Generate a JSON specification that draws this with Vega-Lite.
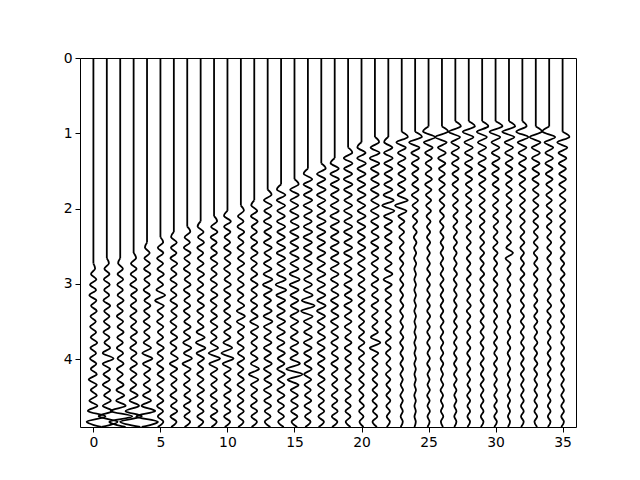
{
"$schema":"https://vega.github.io/schema/vega-lite/v6.json",
"width":496,"height":369,
"autosize":{"type":"none"},
"padding":{"left":80,"top":58,"right":64,"bottom":53},
"config":{"view":{"stroke":"black","strokeWidth":1},"axis":{"domain":false,"grid":false,"ticks":true,"tickColor":"black","tickSize":5,"tickWidth":1,"labelFont":"DejaVu Sans","labelFontSize":13.9,"labelColor":"black","labelPadding":3,"labelFlush":false}},
"datasets":{
"r":[{"k":0,"o":2.73},{"k":1,"o":2.66},{"k":2,"o":2.66},{"k":3,"o":2.59},{"k":4,"o":2.45},{"k":5,"o":2.38},{"k":6,"o":2.31},{"k":7,"o":2.24},{"k":8,"o":2.17},{"k":9,"o":2.1},{"k":10,"o":2.03},{"k":11,"o":1.96},{"k":12,"o":1.89},{"k":13,"o":1.75},{"k":14,"o":1.68},{"k":15,"o":1.61},{"k":16,"o":1.47},{"k":17,"o":1.4},{"k":18,"o":1.33},{"k":19,"o":1.19},{"k":20,"o":1.12},{"k":21,"o":1.05},{"k":22,"o":1.05},{"k":23,"o":0.98},{"k":24,"o":0.98},{"k":25,"o":0.91},{"k":26,"o":0.91},{"k":27,"o":0.84},{"k":28,"o":0.84},{"k":29,"o":0.84},{"k":30,"o":0.84},{"k":31,"o":0.84},{"k":32,"o":0.84},{"k":33,"o":0.91},{"k":34,"o":0.91},{"k":35,"o":0.98}],
"w":[
{"k":0,"t":2.73,"x":0},{"k":0,"t":2.8,"x":0.12},{"k":0,"t":2.87,"x":-0.18},{"k":0,"t":2.94,"x":0.22},{"k":0,"t":3.01,"x":-0.25},{"k":0,"t":3.08,"x":0.2},{"k":0,"t":3.15,"x":-0.3},{"k":0,"t":3.22,"x":0.22},{"k":0,"t":3.29,"x":-0.18},{"k":0,"t":3.36,"x":0.25},{"k":0,"t":3.43,"x":-0.22},{"k":0,"t":3.5,"x":0.18},{"k":0,"t":3.57,"x":-0.25},{"k":0,"t":3.64,"x":0.2},{"k":0,"t":3.71,"x":-0.2},{"k":0,"t":3.78,"x":0.28},{"k":0,"t":3.85,"x":-0.22},{"k":0,"t":3.92,"x":0.2},{"k":0,"t":3.99,"x":-0.25},{"k":0,"t":4.06,"x":0.22},{"k":0,"t":4.13,"x":-0.2},{"k":0,"t":4.2,"x":0.25},{"k":0,"t":4.27,"x":-0.35},{"k":0,"t":4.34,"x":0.25},{"k":0,"t":4.41,"x":-0.2},{"k":0,"t":4.48,"x":0.25},{"k":0,"t":4.55,"x":-0.3},{"k":0,"t":4.62,"x":0.3},{"k":0,"t":4.69,"x":-0.4},{"k":0,"t":4.76,"x":0.9},{"k":0,"t":4.83,"x":-0.5},{"k":0,"t":4.9,"x":0.6},
{"k":1,"t":2.66,"x":1},{"k":1,"t":2.73,"x":1.15},{"k":1,"t":2.8,"x":0.82},{"k":1,"t":2.87,"x":1.2},{"k":1,"t":2.94,"x":0.78},{"k":1,"t":3.01,"x":1.22},{"k":1,"t":3.08,"x":0.8},{"k":1,"t":3.15,"x":1.18},{"k":1,"t":3.22,"x":0.75},{"k":1,"t":3.29,"x":1.25},{"k":1,"t":3.36,"x":0.8},{"k":1,"t":3.43,"x":1.2},{"k":1,"t":3.5,"x":0.78},{"k":1,"t":3.57,"x":1.22},{"k":1,"t":3.64,"x":0.75},{"k":1,"t":3.71,"x":1.2},{"k":1,"t":3.78,"x":0.82},{"k":1,"t":3.85,"x":1.25},{"k":1,"t":3.92,"x":0.7},{"k":1,"t":3.99,"x":1.5},{"k":1,"t":4.06,"x":0.7},{"k":1,"t":4.13,"x":1.25},{"k":1,"t":4.2,"x":0.75},{"k":1,"t":4.27,"x":1.22},{"k":1,"t":4.34,"x":0.7},{"k":1,"t":4.41,"x":1.25},{"k":1,"t":4.48,"x":0.8},{"k":1,"t":4.55,"x":1.3},{"k":1,"t":4.62,"x":0.7},{"k":1,"t":4.69,"x":1.4},{"k":1,"t":4.76,"x":0.4},{"k":1,"t":4.83,"x":1.8},{"k":1,"t":4.9,"x":0.6},
{"k":2,"t":2.66,"x":2},{"k":2,"t":2.73,"x":1.85},{"k":2,"t":2.8,"x":2.2},{"k":2,"t":2.87,"x":1.8},{"k":2,"t":2.94,"x":2.22},{"k":2,"t":3.01,"x":1.78},{"k":2,"t":3.08,"x":2.2},{"k":2,"t":3.15,"x":1.8},{"k":2,"t":3.22,"x":2.25},{"k":2,"t":3.29,"x":1.78},{"k":2,"t":3.36,"x":2.2},{"k":2,"t":3.43,"x":1.75},{"k":2,"t":3.5,"x":2.22},{"k":2,"t":3.57,"x":1.8},{"k":2,"t":3.64,"x":2.25},{"k":2,"t":3.71,"x":1.78},{"k":2,"t":3.78,"x":2.2},{"k":2,"t":3.85,"x":1.75},{"k":2,"t":3.92,"x":2.22},{"k":2,"t":3.99,"x":1.8},{"k":2,"t":4.06,"x":2.25},{"k":2,"t":4.13,"x":1.75},{"k":2,"t":4.2,"x":2.2},{"k":2,"t":4.27,"x":1.78},{"k":2,"t":4.34,"x":2.25},{"k":2,"t":4.41,"x":1.72},{"k":2,"t":4.48,"x":2.3},{"k":2,"t":4.55,"x":1.7},{"k":2,"t":4.62,"x":2.4},{"k":2,"t":4.69,"x":1.3},{"k":2,"t":4.76,"x":2.9},{"k":2,"t":4.83,"x":1.2},{"k":2,"t":4.9,"x":2.4},
{"k":3,"t":2.59,"x":3},{"k":3,"t":2.66,"x":3.18},{"k":3,"t":2.73,"x":2.8},{"k":3,"t":2.8,"x":3.22},{"k":3,"t":2.87,"x":2.78},{"k":3,"t":2.94,"x":3.2},{"k":3,"t":3.01,"x":2.75},{"k":3,"t":3.08,"x":3.25},{"k":3,"t":3.15,"x":2.8},{"k":3,"t":3.22,"x":3.2},{"k":3,"t":3.29,"x":2.78},{"k":3,"t":3.36,"x":3.22},{"k":3,"t":3.43,"x":2.75},{"k":3,"t":3.5,"x":3.2},{"k":3,"t":3.57,"x":2.8},{"k":3,"t":3.64,"x":3.25},{"k":3,"t":3.71,"x":2.78},{"k":3,"t":3.78,"x":3.2},{"k":3,"t":3.85,"x":2.75},{"k":3,"t":3.92,"x":3.22},{"k":3,"t":3.99,"x":2.8},{"k":3,"t":4.06,"x":3.25},{"k":3,"t":4.13,"x":2.75},{"k":3,"t":4.2,"x":3.22},{"k":3,"t":4.27,"x":2.78},{"k":3,"t":4.34,"x":3.2},{"k":3,"t":4.41,"x":2.75},{"k":3,"t":4.48,"x":3.3},{"k":3,"t":4.55,"x":2.7},{"k":3,"t":4.62,"x":3.4},{"k":3,"t":4.69,"x":2.4},{"k":3,"t":4.76,"x":3.6},{"k":3,"t":4.83,"x":2.0},{"k":3,"t":4.9,"x":3.5},
{"k":4,"t":2.45,"x":4},{"k":4,"t":2.52,"x":3.85},{"k":4,"t":2.59,"x":4.2},{"k":4,"t":2.66,"x":3.8},{"k":4,"t":2.73,"x":4.22},{"k":4,"t":2.8,"x":3.78},{"k":4,"t":2.87,"x":4.25},{"k":4,"t":2.94,"x":3.8},{"k":4,"t":3.01,"x":4.2},{"k":4,"t":3.08,"x":3.75},{"k":4,"t":3.15,"x":4.22},{"k":4,"t":3.22,"x":3.8},{"k":4,"t":3.29,"x":4.25},{"k":4,"t":3.36,"x":3.78},{"k":4,"t":3.43,"x":4.2},{"k":4,"t":3.5,"x":3.75},{"k":4,"t":3.57,"x":4.22},{"k":4,"t":3.64,"x":3.78},{"k":4,"t":3.71,"x":4.2},{"k":4,"t":3.78,"x":3.75},{"k":4,"t":3.85,"x":4.3},{"k":4,"t":3.92,"x":3.65},{"k":4,"t":3.99,"x":4.4},{"k":4,"t":4.06,"x":3.7},{"k":4,"t":4.13,"x":4.25},{"k":4,"t":4.2,"x":3.78},{"k":4,"t":4.27,"x":4.22},{"k":4,"t":4.34,"x":3.75},{"k":4,"t":4.41,"x":4.25},{"k":4,"t":4.48,"x":3.7},{"k":4,"t":4.55,"x":4.3},{"k":4,"t":4.62,"x":3.6},{"k":4,"t":4.69,"x":4.6},{"k":4,"t":4.76,"x":3.2},{"k":4,"t":4.83,"x":4.8},{"k":4,"t":4.9,"x":3.6},
{"k":5,"t":2.38,"x":5},{"k":5,"t":2.45,"x":5.2},{"k":5,"t":2.52,"x":4.8},{"k":5,"t":2.59,"x":5.22},{"k":5,"t":2.66,"x":4.75},{"k":5,"t":2.73,"x":5.2},{"k":5,"t":2.8,"x":4.78},{"k":5,"t":2.87,"x":5.25},{"k":5,"t":2.94,"x":4.8},{"k":5,"t":3.01,"x":5.2},{"k":5,"t":3.08,"x":4.7},{"k":5,"t":3.15,"x":5.35},{"k":5,"t":3.22,"x":4.6},{"k":5,"t":3.29,"x":5.25},{"k":5,"t":3.36,"x":4.78},{"k":5,"t":3.43,"x":5.2},{"k":5,"t":3.5,"x":4.75},{"k":5,"t":3.57,"x":5.22},{"k":5,"t":3.64,"x":4.8},{"k":5,"t":3.71,"x":5.2},{"k":5,"t":3.78,"x":4.75},{"k":5,"t":3.85,"x":5.25},{"k":5,"t":3.92,"x":4.78},{"k":5,"t":3.99,"x":5.2},{"k":5,"t":4.06,"x":4.75},{"k":5,"t":4.13,"x":5.22},{"k":5,"t":4.2,"x":4.78},{"k":5,"t":4.27,"x":5.25},{"k":5,"t":4.34,"x":4.75},{"k":5,"t":4.41,"x":5.2},{"k":5,"t":4.48,"x":4.78},{"k":5,"t":4.55,"x":5.22},{"k":5,"t":4.62,"x":4.75},{"k":5,"t":4.69,"x":5.2},{"k":5,"t":4.76,"x":4.8},{"k":5,"t":4.83,"x":5.22},{"k":5,"t":4.9,"x":4.8},
{"k":6,"t":2.31,"x":6},{"k":6,"t":2.38,"x":5.8},{"k":6,"t":2.45,"x":6.22},{"k":6,"t":2.52,"x":5.78},{"k":6,"t":2.59,"x":6.2},{"k":6,"t":2.66,"x":5.75},{"k":6,"t":2.73,"x":6.25},{"k":6,"t":2.8,"x":5.8},{"k":6,"t":2.87,"x":6.2},{"k":6,"t":2.94,"x":5.75},{"k":6,"t":3.01,"x":6.22},{"k":6,"t":3.08,"x":5.78},{"k":6,"t":3.15,"x":6.2},{"k":6,"t":3.22,"x":5.75},{"k":6,"t":3.29,"x":6.25},{"k":6,"t":3.36,"x":5.8},{"k":6,"t":3.43,"x":6.22},{"k":6,"t":3.5,"x":5.75},{"k":6,"t":3.57,"x":6.2},{"k":6,"t":3.64,"x":5.78},{"k":6,"t":3.71,"x":6.25},{"k":6,"t":3.78,"x":5.75},{"k":6,"t":3.85,"x":6.2},{"k":6,"t":3.92,"x":5.78},{"k":6,"t":3.99,"x":6.3},{"k":6,"t":4.06,"x":5.7},{"k":6,"t":4.13,"x":6.25},{"k":6,"t":4.2,"x":5.75},{"k":6,"t":4.27,"x":6.22},{"k":6,"t":4.34,"x":5.8},{"k":6,"t":4.41,"x":6.2},{"k":6,"t":4.48,"x":5.75},{"k":6,"t":4.55,"x":6.22},{"k":6,"t":4.62,"x":5.78},{"k":6,"t":4.69,"x":6.25},{"k":6,"t":4.76,"x":5.75},{"k":6,"t":4.83,"x":6.2},{"k":6,"t":4.9,"x":5.8},
{"k":7,"t":2.24,"x":7},{"k":7,"t":2.31,"x":7.22},{"k":7,"t":2.38,"x":6.8},{"k":7,"t":2.45,"x":7.2},{"k":7,"t":2.52,"x":6.75},{"k":7,"t":2.59,"x":7.25},{"k":7,"t":2.66,"x":6.78},{"k":7,"t":2.73,"x":7.2},{"k":7,"t":2.8,"x":6.75},{"k":7,"t":2.87,"x":7.22},{"k":7,"t":2.94,"x":6.8},{"k":7,"t":3.01,"x":7.25},{"k":7,"t":3.08,"x":6.75},{"k":7,"t":3.15,"x":7.2},{"k":7,"t":3.22,"x":6.78},{"k":7,"t":3.29,"x":7.22},{"k":7,"t":3.36,"x":6.75},{"k":7,"t":3.43,"x":7.2},{"k":7,"t":3.5,"x":6.78},{"k":7,"t":3.57,"x":7.25},{"k":7,"t":3.64,"x":6.75},{"k":7,"t":3.71,"x":7.22},{"k":7,"t":3.78,"x":6.7},{"k":7,"t":3.85,"x":7.3},{"k":7,"t":3.92,"x":6.75},{"k":7,"t":3.99,"x":7.35},{"k":7,"t":4.06,"x":6.65},{"k":7,"t":4.13,"x":7.25},{"k":7,"t":4.2,"x":6.78},{"k":7,"t":4.27,"x":7.2},{"k":7,"t":4.34,"x":6.75},{"k":7,"t":4.41,"x":7.22},{"k":7,"t":4.48,"x":6.78},{"k":7,"t":4.55,"x":7.25},{"k":7,"t":4.62,"x":6.75},{"k":7,"t":4.69,"x":7.2},{"k":7,"t":4.76,"x":6.78},{"k":7,"t":4.83,"x":7.22},{"k":7,"t":4.9,"x":6.8},
{"k":8,"t":2.17,"x":8},{"k":8,"t":2.24,"x":7.78},{"k":8,"t":2.31,"x":8.22},{"k":8,"t":2.38,"x":7.8},{"k":8,"t":2.45,"x":8.25},{"k":8,"t":2.52,"x":7.75},{"k":8,"t":2.59,"x":8.2},{"k":8,"t":2.66,"x":7.78},{"k":8,"t":2.73,"x":8.22},{"k":8,"t":2.8,"x":7.75},{"k":8,"t":2.87,"x":8.25},{"k":8,"t":2.94,"x":7.8},{"k":8,"t":3.01,"x":8.2},{"k":8,"t":3.08,"x":7.75},{"k":8,"t":3.15,"x":8.22},{"k":8,"t":3.22,"x":7.78},{"k":8,"t":3.29,"x":8.25},{"k":8,"t":3.36,"x":7.75},{"k":8,"t":3.43,"x":8.2},{"k":8,"t":3.5,"x":7.78},{"k":8,"t":3.57,"x":8.22},{"k":8,"t":3.64,"x":7.7},{"k":8,"t":3.71,"x":8.3},{"k":8,"t":3.78,"x":7.65},{"k":8,"t":3.85,"x":8.35},{"k":8,"t":3.92,"x":7.7},{"k":8,"t":3.99,"x":8.25},{"k":8,"t":4.06,"x":7.78},{"k":8,"t":4.13,"x":8.2},{"k":8,"t":4.2,"x":7.75},{"k":8,"t":4.27,"x":8.22},{"k":8,"t":4.34,"x":7.78},{"k":8,"t":4.41,"x":8.25},{"k":8,"t":4.48,"x":7.75},{"k":8,"t":4.55,"x":8.2},{"k":8,"t":4.62,"x":7.78},{"k":8,"t":4.69,"x":8.22},{"k":8,"t":4.76,"x":7.75},{"k":8,"t":4.83,"x":8.2},{"k":8,"t":4.9,"x":7.8},
{"k":9,"t":2.1,"x":9},{"k":9,"t":2.17,"x":9.22},{"k":9,"t":2.24,"x":8.78},{"k":9,"t":2.31,"x":9.25},{"k":9,"t":2.38,"x":8.75},{"k":9,"t":2.45,"x":9.2},{"k":9,"t":2.52,"x":8.78},{"k":9,"t":2.59,"x":9.22},{"k":9,"t":2.66,"x":8.75},{"k":9,"t":2.73,"x":9.25},{"k":9,"t":2.8,"x":8.8},{"k":9,"t":2.87,"x":9.2},{"k":9,"t":2.94,"x":8.75},{"k":9,"t":3.01,"x":9.22},{"k":9,"t":3.08,"x":8.78},{"k":9,"t":3.15,"x":9.25},{"k":9,"t":3.22,"x":8.75},{"k":9,"t":3.29,"x":9.2},{"k":9,"t":3.36,"x":8.78},{"k":9,"t":3.43,"x":9.22},{"k":9,"t":3.5,"x":8.75},{"k":9,"t":3.57,"x":9.25},{"k":9,"t":3.64,"x":8.78},{"k":9,"t":3.71,"x":9.2},{"k":9,"t":3.78,"x":8.75},{"k":9,"t":3.85,"x":9.3},{"k":9,"t":3.92,"x":8.6},{"k":9,"t":3.99,"x":9.45},{"k":9,"t":4.06,"x":8.65},{"k":9,"t":4.13,"x":9.25},{"k":9,"t":4.2,"x":8.75},{"k":9,"t":4.27,"x":9.22},{"k":9,"t":4.34,"x":8.78},{"k":9,"t":4.41,"x":9.2},{"k":9,"t":4.48,"x":8.75},{"k":9,"t":4.55,"x":9.22},{"k":9,"t":4.62,"x":8.78},{"k":9,"t":4.69,"x":9.25},{"k":9,"t":4.76,"x":8.75},{"k":9,"t":4.83,"x":9.2},{"k":9,"t":4.9,"x":8.8},
{"k":10,"t":2.03,"x":10},{"k":10,"t":2.1,"x":9.75},{"k":10,"t":2.17,"x":10.25},{"k":10,"t":2.24,"x":9.75},{"k":10,"t":2.31,"x":10.22},{"k":10,"t":2.38,"x":9.78},{"k":10,"t":2.45,"x":10.2},{"k":10,"t":2.52,"x":9.75},{"k":10,"t":2.59,"x":10.25},{"k":10,"t":2.66,"x":9.78},{"k":10,"t":2.73,"x":10.22},{"k":10,"t":2.8,"x":9.75},{"k":10,"t":2.87,"x":10.2},{"k":10,"t":2.94,"x":9.78},{"k":10,"t":3.01,"x":10.25},{"k":10,"t":3.08,"x":9.75},{"k":10,"t":3.15,"x":10.22},{"k":10,"t":3.22,"x":9.78},{"k":10,"t":3.29,"x":10.2},{"k":10,"t":3.36,"x":9.75},{"k":10,"t":3.43,"x":10.22},{"k":10,"t":3.5,"x":9.78},{"k":10,"t":3.57,"x":10.25},{"k":10,"t":3.64,"x":9.75},{"k":10,"t":3.71,"x":10.22},{"k":10,"t":3.78,"x":9.7},{"k":10,"t":3.85,"x":10.35},{"k":10,"t":3.92,"x":9.55},{"k":10,"t":3.99,"x":10.45},{"k":10,"t":4.06,"x":9.65},{"k":10,"t":4.13,"x":10.25},{"k":10,"t":4.2,"x":9.75},{"k":10,"t":4.27,"x":10.22},{"k":10,"t":4.34,"x":9.78},{"k":10,"t":4.41,"x":10.25},{"k":10,"t":4.48,"x":9.75},{"k":10,"t":4.55,"x":10.2},{"k":10,"t":4.62,"x":9.78},{"k":10,"t":4.69,"x":10.22},{"k":10,"t":4.76,"x":9.75},{"k":10,"t":4.83,"x":10.2},{"k":10,"t":4.9,"x":9.8},
{"k":11,"t":1.96,"x":11},{"k":11,"t":2.03,"x":11.22},{"k":11,"t":2.1,"x":10.78},{"k":11,"t":2.17,"x":11.2},{"k":11,"t":2.24,"x":10.75},{"k":11,"t":2.31,"x":11.25},{"k":11,"t":2.38,"x":10.8},{"k":11,"t":2.45,"x":11.2},{"k":11,"t":2.52,"x":10.75},{"k":11,"t":2.59,"x":11.22},{"k":11,"t":2.66,"x":10.78},{"k":11,"t":2.73,"x":11.25},{"k":11,"t":2.8,"x":10.75},{"k":11,"t":2.87,"x":11.2},{"k":11,"t":2.94,"x":10.78},{"k":11,"t":3.01,"x":11.22},{"k":11,"t":3.08,"x":10.75},{"k":11,"t":3.15,"x":11.2},{"k":11,"t":3.22,"x":10.78},{"k":11,"t":3.29,"x":11.25},{"k":11,"t":3.36,"x":10.7},{"k":11,"t":3.43,"x":11.3},{"k":11,"t":3.5,"x":10.7},{"k":11,"t":3.57,"x":11.25},{"k":11,"t":3.64,"x":10.78},{"k":11,"t":3.71,"x":11.2},{"k":11,"t":3.78,"x":10.75},{"k":11,"t":3.85,"x":11.22},{"k":11,"t":3.92,"x":10.78},{"k":11,"t":3.99,"x":11.25},{"k":11,"t":4.06,"x":10.75},{"k":11,"t":4.13,"x":11.2},{"k":11,"t":4.2,"x":10.78},{"k":11,"t":4.27,"x":11.22},{"k":11,"t":4.34,"x":10.75},{"k":11,"t":4.41,"x":11.25},{"k":11,"t":4.48,"x":10.78},{"k":11,"t":4.55,"x":11.2},{"k":11,"t":4.62,"x":10.75},{"k":11,"t":4.69,"x":11.22},{"k":11,"t":4.76,"x":10.8},{"k":11,"t":4.83,"x":11.2},{"k":11,"t":4.9,"x":10.8},
{"k":12,"t":1.89,"x":12},{"k":12,"t":1.96,"x":11.78},{"k":12,"t":2.03,"x":12.22},{"k":12,"t":2.1,"x":11.75},{"k":12,"t":2.17,"x":12.25},{"k":12,"t":2.24,"x":11.8},{"k":12,"t":2.31,"x":12.2},{"k":12,"t":2.38,"x":11.75},{"k":12,"t":2.45,"x":12.22},{"k":12,"t":2.52,"x":11.78},{"k":12,"t":2.59,"x":12.25},{"k":12,"t":2.66,"x":11.75},{"k":12,"t":2.73,"x":12.2},{"k":12,"t":2.8,"x":11.78},{"k":12,"t":2.87,"x":12.22},{"k":12,"t":2.94,"x":11.75},{"k":12,"t":3.01,"x":12.25},{"k":12,"t":3.08,"x":11.78},{"k":12,"t":3.15,"x":12.2},{"k":12,"t":3.22,"x":11.75},{"k":12,"t":3.29,"x":12.22},{"k":12,"t":3.36,"x":11.78},{"k":12,"t":3.43,"x":12.25},{"k":12,"t":3.5,"x":11.7},{"k":12,"t":3.57,"x":12.3},{"k":12,"t":3.64,"x":11.75},{"k":12,"t":3.71,"x":12.22},{"k":12,"t":3.78,"x":11.78},{"k":12,"t":3.85,"x":12.2},{"k":12,"t":3.92,"x":11.75},{"k":12,"t":3.99,"x":12.25},{"k":12,"t":4.06,"x":11.75},{"k":12,"t":4.13,"x":12.35},{"k":12,"t":4.2,"x":11.6},{"k":12,"t":4.27,"x":12.3},{"k":12,"t":4.34,"x":11.75},{"k":12,"t":4.41,"x":12.22},{"k":12,"t":4.48,"x":11.78},{"k":12,"t":4.55,"x":12.2},{"k":12,"t":4.62,"x":11.75},{"k":12,"t":4.69,"x":12.22},{"k":12,"t":4.76,"x":11.78},{"k":12,"t":4.83,"x":12.2},{"k":12,"t":4.9,"x":11.8},
{"k":13,"t":1.75,"x":13},{"k":13,"t":1.82,"x":13.28},{"k":13,"t":1.89,"x":12.72},{"k":13,"t":1.96,"x":13.3},{"k":13,"t":2.03,"x":12.75},{"k":13,"t":2.1,"x":13.25},{"k":13,"t":2.17,"x":12.72},{"k":13,"t":2.24,"x":13.28},{"k":13,"t":2.31,"x":12.75},{"k":13,"t":2.38,"x":13.25},{"k":13,"t":2.45,"x":12.72},{"k":13,"t":2.52,"x":13.3},{"k":13,"t":2.59,"x":12.75},{"k":13,"t":2.66,"x":13.25},{"k":13,"t":2.73,"x":12.72},{"k":13,"t":2.8,"x":13.28},{"k":13,"t":2.87,"x":12.7},{"k":13,"t":2.94,"x":13.35},{"k":13,"t":3.01,"x":12.65},{"k":13,"t":3.08,"x":13.3},{"k":13,"t":3.15,"x":12.72},{"k":13,"t":3.22,"x":13.25},{"k":13,"t":3.29,"x":12.75},{"k":13,"t":3.36,"x":13.3},{"k":13,"t":3.43,"x":12.7},{"k":13,"t":3.5,"x":13.35},{"k":13,"t":3.57,"x":12.72},{"k":13,"t":3.64,"x":13.25},{"k":13,"t":3.71,"x":12.75},{"k":13,"t":3.78,"x":13.28},{"k":13,"t":3.85,"x":12.72},{"k":13,"t":3.92,"x":13.25},{"k":13,"t":3.99,"x":12.75},{"k":13,"t":4.06,"x":13.3},{"k":13,"t":4.13,"x":12.72},{"k":13,"t":4.2,"x":13.25},{"k":13,"t":4.27,"x":12.75},{"k":13,"t":4.34,"x":13.28},{"k":13,"t":4.41,"x":12.72},{"k":13,"t":4.48,"x":13.25},{"k":13,"t":4.55,"x":12.75},{"k":13,"t":4.62,"x":13.25},{"k":13,"t":4.69,"x":12.78},{"k":13,"t":4.76,"x":13.22},{"k":13,"t":4.83,"x":12.78},{"k":13,"t":4.9,"x":13.2},
{"k":14,"t":1.68,"x":14},{"k":14,"t":1.75,"x":13.7},{"k":14,"t":1.82,"x":14.32},{"k":14,"t":1.89,"x":13.68},{"k":14,"t":1.96,"x":14.3},{"k":14,"t":2.03,"x":13.72},{"k":14,"t":2.1,"x":14.28},{"k":14,"t":2.17,"x":13.7},{"k":14,"t":2.24,"x":14.3},{"k":14,"t":2.31,"x":13.72},{"k":14,"t":2.38,"x":14.28},{"k":14,"t":2.45,"x":13.7},{"k":14,"t":2.52,"x":14.3},{"k":14,"t":2.59,"x":13.68},{"k":14,"t":2.66,"x":14.3},{"k":14,"t":2.73,"x":13.72},{"k":14,"t":2.8,"x":14.28},{"k":14,"t":2.87,"x":13.7},{"k":14,"t":2.94,"x":14.35},{"k":14,"t":3.01,"x":13.6},{"k":14,"t":3.08,"x":14.38},{"k":14,"t":3.15,"x":13.65},{"k":14,"t":3.22,"x":14.3},{"k":14,"t":3.29,"x":13.72},{"k":14,"t":3.36,"x":14.28},{"k":14,"t":3.43,"x":13.7},{"k":14,"t":3.5,"x":14.3},{"k":14,"t":3.57,"x":13.72},{"k":14,"t":3.64,"x":14.28},{"k":14,"t":3.71,"x":13.7},{"k":14,"t":3.78,"x":14.25},{"k":14,"t":3.85,"x":13.72},{"k":14,"t":3.92,"x":14.28},{"k":14,"t":3.99,"x":13.75},{"k":14,"t":4.06,"x":14.25},{"k":14,"t":4.13,"x":13.72},{"k":14,"t":4.2,"x":14.28},{"k":14,"t":4.27,"x":13.75},{"k":14,"t":4.34,"x":14.25},{"k":14,"t":4.41,"x":13.72},{"k":14,"t":4.48,"x":14.25},{"k":14,"t":4.55,"x":13.75},{"k":14,"t":4.62,"x":14.22},{"k":14,"t":4.69,"x":13.78},{"k":14,"t":4.76,"x":14.22},{"k":14,"t":4.83,"x":13.78},{"k":14,"t":4.9,"x":14.2},
{"k":15,"t":1.61,"x":15},{"k":15,"t":1.68,"x":15.3},{"k":15,"t":1.75,"x":14.68},{"k":15,"t":1.82,"x":15.32},{"k":15,"t":1.89,"x":14.7},{"k":15,"t":1.96,"x":15.28},{"k":15,"t":2.03,"x":14.68},{"k":15,"t":2.1,"x":15.3},{"k":15,"t":2.17,"x":14.72},{"k":15,"t":2.24,"x":15.32},{"k":15,"t":2.31,"x":14.68},{"k":15,"t":2.38,"x":15.3},{"k":15,"t":2.45,"x":14.7},{"k":15,"t":2.52,"x":15.28},{"k":15,"t":2.59,"x":14.68},{"k":15,"t":2.66,"x":15.32},{"k":15,"t":2.73,"x":14.7},{"k":15,"t":2.8,"x":15.3},{"k":15,"t":2.87,"x":14.65},{"k":15,"t":2.94,"x":15.38},{"k":15,"t":3.01,"x":14.65},{"k":15,"t":3.08,"x":15.3},{"k":15,"t":3.15,"x":14.7},{"k":15,"t":3.22,"x":15.28},{"k":15,"t":3.29,"x":14.72},{"k":15,"t":3.36,"x":15.3},{"k":15,"t":3.43,"x":14.7},{"k":15,"t":3.5,"x":15.28},{"k":15,"t":3.57,"x":14.72},{"k":15,"t":3.64,"x":15.25},{"k":15,"t":3.71,"x":14.72},{"k":15,"t":3.78,"x":15.28},{"k":15,"t":3.85,"x":14.7},{"k":15,"t":3.92,"x":15.25},{"k":15,"t":3.99,"x":14.7},{"k":15,"t":4.06,"x":15.4},{"k":15,"t":4.13,"x":14.4},{"k":15,"t":4.2,"x":15.6},{"k":15,"t":4.27,"x":14.5},{"k":15,"t":4.34,"x":15.3},{"k":15,"t":4.41,"x":14.72},{"k":15,"t":4.48,"x":15.25},{"k":15,"t":4.55,"x":14.75},{"k":15,"t":4.62,"x":15.25},{"k":15,"t":4.69,"x":14.75},{"k":15,"t":4.76,"x":15.22},{"k":15,"t":4.83,"x":14.78},{"k":15,"t":4.9,"x":15.2},
{"k":16,"t":1.47,"x":16},{"k":16,"t":1.54,"x":15.7},{"k":16,"t":1.61,"x":16.32},{"k":16,"t":1.68,"x":15.68},{"k":16,"t":1.75,"x":16.3},{"k":16,"t":1.82,"x":15.7},{"k":16,"t":1.89,"x":16.32},{"k":16,"t":1.96,"x":15.68},{"k":16,"t":2.03,"x":16.3},{"k":16,"t":2.1,"x":15.72},{"k":16,"t":2.17,"x":16.28},{"k":16,"t":2.24,"x":15.7},{"k":16,"t":2.31,"x":16.32},{"k":16,"t":2.38,"x":15.68},{"k":16,"t":2.45,"x":16.3},{"k":16,"t":2.52,"x":15.7},{"k":16,"t":2.59,"x":16.28},{"k":16,"t":2.66,"x":15.72},{"k":16,"t":2.73,"x":16.3},{"k":16,"t":2.8,"x":15.7},{"k":16,"t":2.87,"x":16.28},{"k":16,"t":2.94,"x":15.72},{"k":16,"t":3.01,"x":16.3},{"k":16,"t":3.08,"x":15.7},{"k":16,"t":3.15,"x":16.35},{"k":16,"t":3.22,"x":15.55},{"k":16,"t":3.29,"x":16.5},{"k":16,"t":3.36,"x":15.5},{"k":16,"t":3.43,"x":16.35},{"k":16,"t":3.5,"x":15.7},{"k":16,"t":3.57,"x":16.28},{"k":16,"t":3.64,"x":15.72},{"k":16,"t":3.71,"x":16.3},{"k":16,"t":3.78,"x":15.7},{"k":16,"t":3.85,"x":16.28},{"k":16,"t":3.92,"x":15.72},{"k":16,"t":3.99,"x":16.25},{"k":16,"t":4.06,"x":15.75},{"k":16,"t":4.13,"x":16.28},{"k":16,"t":4.2,"x":15.72},{"k":16,"t":4.27,"x":16.25},{"k":16,"t":4.34,"x":15.75},{"k":16,"t":4.41,"x":16.22},{"k":16,"t":4.48,"x":15.78},{"k":16,"t":4.55,"x":16.25},{"k":16,"t":4.62,"x":15.75},{"k":16,"t":4.69,"x":16.22},{"k":16,"t":4.76,"x":15.78},{"k":16,"t":4.83,"x":16.2},{"k":16,"t":4.9,"x":15.8},
{"k":17,"t":1.4,"x":17},{"k":17,"t":1.47,"x":17.32},{"k":17,"t":1.54,"x":16.68},{"k":17,"t":1.61,"x":17.3},{"k":17,"t":1.68,"x":16.7},{"k":17,"t":1.75,"x":17.32},{"k":17,"t":1.82,"x":16.68},{"k":17,"t":1.89,"x":17.3},{"k":17,"t":1.96,"x":16.72},{"k":17,"t":2.03,"x":17.28},{"k":17,"t":2.1,"x":16.7},{"k":17,"t":2.17,"x":17.32},{"k":17,"t":2.24,"x":16.68},{"k":17,"t":2.31,"x":17.3},{"k":17,"t":2.38,"x":16.7},{"k":17,"t":2.45,"x":17.28},{"k":17,"t":2.52,"x":16.72},{"k":17,"t":2.59,"x":17.3},{"k":17,"t":2.66,"x":16.7},{"k":17,"t":2.73,"x":17.28},{"k":17,"t":2.8,"x":16.72},{"k":17,"t":2.87,"x":17.3},{"k":17,"t":2.94,"x":16.7},{"k":17,"t":3.01,"x":17.28},{"k":17,"t":3.08,"x":16.72},{"k":17,"t":3.15,"x":17.3},{"k":17,"t":3.22,"x":16.7},{"k":17,"t":3.29,"x":17.32},{"k":17,"t":3.36,"x":16.68},{"k":17,"t":3.43,"x":17.28},{"k":17,"t":3.5,"x":16.72},{"k":17,"t":3.57,"x":17.25},{"k":17,"t":3.64,"x":16.75},{"k":17,"t":3.71,"x":17.28},{"k":17,"t":3.78,"x":16.72},{"k":17,"t":3.85,"x":17.25},{"k":17,"t":3.92,"x":16.75},{"k":17,"t":3.99,"x":17.25},{"k":17,"t":4.06,"x":16.75},{"k":17,"t":4.13,"x":17.22},{"k":17,"t":4.2,"x":16.78},{"k":17,"t":4.27,"x":17.25},{"k":17,"t":4.34,"x":16.75},{"k":17,"t":4.41,"x":17.22},{"k":17,"t":4.48,"x":16.78},{"k":17,"t":4.55,"x":17.2},{"k":17,"t":4.62,"x":16.8},{"k":17,"t":4.69,"x":17.22},{"k":17,"t":4.76,"x":16.78},{"k":17,"t":4.83,"x":17.2},{"k":17,"t":4.9,"x":16.8},
{"k":18,"t":1.33,"x":18},{"k":18,"t":1.4,"x":17.7},{"k":18,"t":1.47,"x":18.3},{"k":18,"t":1.54,"x":17.68},{"k":18,"t":1.61,"x":18.32},{"k":18,"t":1.68,"x":17.7},{"k":18,"t":1.75,"x":18.3},{"k":18,"t":1.82,"x":17.72},{"k":18,"t":1.89,"x":18.28},{"k":18,"t":1.96,"x":17.7},{"k":18,"t":2.03,"x":18.3},{"k":18,"t":2.1,"x":17.68},{"k":18,"t":2.17,"x":18.32},{"k":18,"t":2.24,"x":17.7},{"k":18,"t":2.31,"x":18.28},{"k":18,"t":2.38,"x":17.72},{"k":18,"t":2.45,"x":18.3},{"k":18,"t":2.52,"x":17.7},{"k":18,"t":2.59,"x":18.28},{"k":18,"t":2.66,"x":17.72},{"k":18,"t":2.73,"x":18.3},{"k":18,"t":2.8,"x":17.7},{"k":18,"t":2.87,"x":18.28},{"k":18,"t":2.94,"x":17.72},{"k":18,"t":3.01,"x":18.25},{"k":18,"t":3.08,"x":17.75},{"k":18,"t":3.15,"x":18.28},{"k":18,"t":3.22,"x":17.72},{"k":18,"t":3.29,"x":18.25},{"k":18,"t":3.36,"x":17.75},{"k":18,"t":3.43,"x":18.28},{"k":18,"t":3.5,"x":17.72},{"k":18,"t":3.57,"x":18.25},{"k":18,"t":3.64,"x":17.75},{"k":18,"t":3.71,"x":18.25},{"k":18,"t":3.78,"x":17.75},{"k":18,"t":3.85,"x":18.22},{"k":18,"t":3.92,"x":17.78},{"k":18,"t":3.99,"x":18.25},{"k":18,"t":4.06,"x":17.75},{"k":18,"t":4.13,"x":18.22},{"k":18,"t":4.2,"x":17.78},{"k":18,"t":4.27,"x":18.2},{"k":18,"t":4.34,"x":17.8},{"k":18,"t":4.41,"x":18.22},{"k":18,"t":4.48,"x":17.78},{"k":18,"t":4.55,"x":18.2},{"k":18,"t":4.62,"x":17.8},{"k":18,"t":4.69,"x":18.22},{"k":18,"t":4.76,"x":17.78},{"k":18,"t":4.83,"x":18.2},{"k":18,"t":4.9,"x":17.8},
{"k":19,"t":1.19,"x":19},{"k":19,"t":1.26,"x":19.3},{"k":19,"t":1.33,"x":18.68},{"k":19,"t":1.4,"x":19.32},{"k":19,"t":1.47,"x":18.7},{"k":19,"t":1.54,"x":19.3},{"k":19,"t":1.61,"x":18.68},{"k":19,"t":1.68,"x":19.32},{"k":19,"t":1.75,"x":18.7},{"k":19,"t":1.82,"x":19.28},{"k":19,"t":1.89,"x":18.72},{"k":19,"t":1.96,"x":19.3},{"k":19,"t":2.03,"x":18.7},{"k":19,"t":2.1,"x":19.28},{"k":19,"t":2.17,"x":18.72},{"k":19,"t":2.24,"x":19.3},{"k":19,"t":2.31,"x":18.7},{"k":19,"t":2.38,"x":19.28},{"k":19,"t":2.45,"x":18.72},{"k":19,"t":2.52,"x":19.3},{"k":19,"t":2.59,"x":18.7},{"k":19,"t":2.66,"x":19.28},{"k":19,"t":2.73,"x":18.72},{"k":19,"t":2.8,"x":19.25},{"k":19,"t":2.87,"x":18.75},{"k":19,"t":2.94,"x":19.28},{"k":19,"t":3.01,"x":18.72},{"k":19,"t":3.08,"x":19.25},{"k":19,"t":3.15,"x":18.75},{"k":19,"t":3.22,"x":19.28},{"k":19,"t":3.29,"x":18.72},{"k":19,"t":3.36,"x":19.25},{"k":19,"t":3.43,"x":18.75},{"k":19,"t":3.5,"x":19.25},{"k":19,"t":3.57,"x":18.75},{"k":19,"t":3.64,"x":19.22},{"k":19,"t":3.71,"x":18.78},{"k":19,"t":3.78,"x":19.25},{"k":19,"t":3.85,"x":18.75},{"k":19,"t":3.92,"x":19.22},{"k":19,"t":3.99,"x":18.78},{"k":19,"t":4.06,"x":19.22},{"k":19,"t":4.13,"x":18.78},{"k":19,"t":4.2,"x":19.2},{"k":19,"t":4.27,"x":18.8},{"k":19,"t":4.34,"x":19.22},{"k":19,"t":4.41,"x":18.78},{"k":19,"t":4.48,"x":19.2},{"k":19,"t":4.55,"x":18.8},{"k":19,"t":4.62,"x":19.2},{"k":19,"t":4.69,"x":18.8},{"k":19,"t":4.76,"x":19.18},{"k":19,"t":4.83,"x":18.82},{"k":19,"t":4.9,"x":19.18},
{"k":20,"t":1.12,"x":20},{"k":20,"t":1.19,"x":19.7},{"k":20,"t":1.26,"x":20.3},{"k":20,"t":1.33,"x":19.68},{"k":20,"t":1.4,"x":20.32},{"k":20,"t":1.47,"x":19.7},{"k":20,"t":1.54,"x":20.3},{"k":20,"t":1.61,"x":19.7},{"k":20,"t":1.68,"x":20.28},{"k":20,"t":1.75,"x":19.72},{"k":20,"t":1.82,"x":20.3},{"k":20,"t":1.89,"x":19.7},{"k":20,"t":1.96,"x":20.28},{"k":20,"t":2.03,"x":19.72},{"k":20,"t":2.1,"x":20.3},{"k":20,"t":2.17,"x":19.7},{"k":20,"t":2.24,"x":20.28},{"k":20,"t":2.31,"x":19.72},{"k":20,"t":2.38,"x":20.25},{"k":20,"t":2.45,"x":19.75},{"k":20,"t":2.52,"x":20.28},{"k":20,"t":2.59,"x":19.72},{"k":20,"t":2.66,"x":20.25},{"k":20,"t":2.73,"x":19.75},{"k":20,"t":2.8,"x":20.25},{"k":20,"t":2.87,"x":19.75},{"k":20,"t":2.94,"x":20.22},{"k":20,"t":3.01,"x":19.78},{"k":20,"t":3.08,"x":20.25},{"k":20,"t":3.15,"x":19.75},{"k":20,"t":3.22,"x":20.22},{"k":20,"t":3.29,"x":19.78},{"k":20,"t":3.36,"x":20.22},{"k":20,"t":3.43,"x":19.8},{"k":20,"t":3.5,"x":20.2},{"k":20,"t":3.57,"x":19.8},{"k":20,"t":3.64,"x":20.2},{"k":20,"t":3.71,"x":19.8},{"k":20,"t":3.78,"x":20.22},{"k":20,"t":3.85,"x":19.78},{"k":20,"t":3.92,"x":20.2},{"k":20,"t":3.99,"x":19.8},{"k":20,"t":4.06,"x":20.18},{"k":20,"t":4.13,"x":19.82},{"k":20,"t":4.2,"x":20.18},{"k":20,"t":4.27,"x":19.82},{"k":20,"t":4.34,"x":20.18},{"k":20,"t":4.41,"x":19.82},{"k":20,"t":4.48,"x":20.15},{"k":20,"t":4.55,"x":19.85},{"k":20,"t":4.62,"x":20.18},{"k":20,"t":4.69,"x":19.82},{"k":20,"t":4.76,"x":20.15},{"k":20,"t":4.83,"x":19.85},{"k":20,"t":4.9,"x":20.15},
{"k":21,"t":1.05,"x":21},{"k":21,"t":1.12,"x":21.3},{"k":21,"t":1.19,"x":20.68},{"k":21,"t":1.26,"x":21.35},{"k":21,"t":1.33,"x":20.62},{"k":21,"t":1.4,"x":21.32},{"k":21,"t":1.47,"x":20.7},{"k":21,"t":1.54,"x":21.28},{"k":21,"t":1.61,"x":20.72},{"k":21,"t":1.68,"x":21.3},{"k":21,"t":1.75,"x":20.7},{"k":21,"t":1.82,"x":21.28},{"k":21,"t":1.89,"x":20.72},{"k":21,"t":1.96,"x":21.3},{"k":21,"t":2.03,"x":20.7},{"k":21,"t":2.1,"x":21.28},{"k":21,"t":2.17,"x":20.72},{"k":21,"t":2.24,"x":21.25},{"k":21,"t":2.31,"x":20.75},{"k":21,"t":2.38,"x":21.28},{"k":21,"t":2.45,"x":20.72},{"k":21,"t":2.52,"x":21.25},{"k":21,"t":2.59,"x":20.75},{"k":21,"t":2.66,"x":21.25},{"k":21,"t":2.73,"x":20.75},{"k":21,"t":2.8,"x":21.22},{"k":21,"t":2.87,"x":20.78},{"k":21,"t":2.94,"x":21.25},{"k":21,"t":3.01,"x":20.75},{"k":21,"t":3.08,"x":21.22},{"k":21,"t":3.15,"x":20.78},{"k":21,"t":3.22,"x":21.25},{"k":21,"t":3.29,"x":20.75},{"k":21,"t":3.36,"x":21.22},{"k":21,"t":3.43,"x":20.78},{"k":21,"t":3.5,"x":21.2},{"k":21,"t":3.57,"x":20.8},{"k":21,"t":3.64,"x":21.22},{"k":21,"t":3.71,"x":20.7},{"k":21,"t":3.78,"x":21.4},{"k":21,"t":3.85,"x":20.62},{"k":21,"t":3.92,"x":21.25},{"k":21,"t":3.99,"x":20.8},{"k":21,"t":4.06,"x":21.2},{"k":21,"t":4.13,"x":20.8},{"k":21,"t":4.2,"x":21.18},{"k":21,"t":4.27,"x":20.82},{"k":21,"t":4.34,"x":21.18},{"k":21,"t":4.41,"x":20.82},{"k":21,"t":4.48,"x":21.18},{"k":21,"t":4.55,"x":20.82},{"k":21,"t":4.62,"x":21.15},{"k":21,"t":4.69,"x":20.85},{"k":21,"t":4.76,"x":21.18},{"k":21,"t":4.83,"x":20.82},{"k":21,"t":4.9,"x":21.15},
{"k":22,"t":1.05,"x":22},{"k":22,"t":1.12,"x":21.7},{"k":22,"t":1.19,"x":22.3},{"k":22,"t":1.26,"x":21.68},{"k":22,"t":1.33,"x":22.32},{"k":22,"t":1.4,"x":21.7},{"k":22,"t":1.47,"x":22.3},{"k":22,"t":1.54,"x":21.72},{"k":22,"t":1.61,"x":22.28},{"k":22,"t":1.68,"x":21.7},{"k":22,"t":1.75,"x":22.3},{"k":22,"t":1.82,"x":21.65},{"k":22,"t":1.89,"x":22.4},{"k":22,"t":1.96,"x":21.55},{"k":22,"t":2.03,"x":22.45},{"k":22,"t":2.1,"x":21.68},{"k":22,"t":2.17,"x":22.28},{"k":22,"t":2.24,"x":21.72},{"k":22,"t":2.31,"x":22.25},{"k":22,"t":2.38,"x":21.75},{"k":22,"t":2.45,"x":22.25},{"k":22,"t":2.52,"x":21.75},{"k":22,"t":2.59,"x":22.22},{"k":22,"t":2.66,"x":21.78},{"k":22,"t":2.73,"x":22.25},{"k":22,"t":2.8,"x":21.75},{"k":22,"t":2.87,"x":22.3},{"k":22,"t":2.94,"x":21.65},{"k":22,"t":3.01,"x":22.25},{"k":22,"t":3.08,"x":21.78},{"k":22,"t":3.15,"x":22.22},{"k":22,"t":3.22,"x":21.78},{"k":22,"t":3.29,"x":22.2},{"k":22,"t":3.36,"x":21.8},{"k":22,"t":3.43,"x":22.2},{"k":22,"t":3.5,"x":21.8},{"k":22,"t":3.57,"x":22.18},{"k":22,"t":3.64,"x":21.82},{"k":22,"t":3.71,"x":22.2},{"k":22,"t":3.78,"x":21.8},{"k":22,"t":3.85,"x":22.18},{"k":22,"t":3.92,"x":21.82},{"k":22,"t":3.99,"x":22.15},{"k":22,"t":4.06,"x":21.85},{"k":22,"t":4.13,"x":22.18},{"k":22,"t":4.2,"x":21.82},{"k":22,"t":4.27,"x":22.15},{"k":22,"t":4.34,"x":21.85},{"k":22,"t":4.41,"x":22.15},{"k":22,"t":4.48,"x":21.85},{"k":22,"t":4.55,"x":22.15},{"k":22,"t":4.62,"x":21.85},{"k":22,"t":4.69,"x":22.12},{"k":22,"t":4.76,"x":21.88},{"k":22,"t":4.83,"x":22.12},{"k":22,"t":4.9,"x":21.88},
{"k":23,"t":0.98,"x":23},{"k":23,"t":1.05,"x":23.45},{"k":23,"t":1.12,"x":22.6},{"k":23,"t":1.19,"x":23.3},{"k":23,"t":1.26,"x":22.72},{"k":23,"t":1.33,"x":23.28},{"k":23,"t":1.4,"x":22.72},{"k":23,"t":1.47,"x":23.25},{"k":23,"t":1.54,"x":22.75},{"k":23,"t":1.61,"x":23.28},{"k":23,"t":1.68,"x":22.72},{"k":23,"t":1.75,"x":23.25},{"k":23,"t":1.82,"x":22.7},{"k":23,"t":1.89,"x":23.45},{"k":23,"t":1.96,"x":22.5},{"k":23,"t":2.03,"x":23.35},{"k":23,"t":2.1,"x":22.75},{"k":23,"t":2.17,"x":23.2},{"k":23,"t":2.24,"x":22.8},{"k":23,"t":2.31,"x":23.18},{"k":23,"t":2.38,"x":22.82},{"k":23,"t":2.45,"x":23.15},{"k":23,"t":2.52,"x":22.85},{"k":23,"t":2.59,"x":23.15},{"k":23,"t":2.66,"x":22.85},{"k":23,"t":2.73,"x":23.12},{"k":23,"t":2.8,"x":22.88},{"k":23,"t":2.87,"x":23.12},{"k":23,"t":2.94,"x":22.88},{"k":23,"t":3.01,"x":23.12},{"k":23,"t":3.08,"x":22.88},{"k":23,"t":3.15,"x":23.1},{"k":23,"t":3.22,"x":22.9},{"k":23,"t":3.29,"x":23.12},{"k":23,"t":3.36,"x":22.88},{"k":23,"t":3.43,"x":23.1},{"k":23,"t":3.5,"x":22.9},{"k":23,"t":3.57,"x":23.1},{"k":23,"t":3.64,"x":22.9},{"k":23,"t":3.71,"x":23.12},{"k":23,"t":3.78,"x":22.88},{"k":23,"t":3.85,"x":23.1},{"k":23,"t":3.92,"x":22.9},{"k":23,"t":3.99,"x":23.1},{"k":23,"t":4.06,"x":22.9},{"k":23,"t":4.13,"x":23.1},{"k":23,"t":4.2,"x":22.9},{"k":23,"t":4.27,"x":23.08},{"k":23,"t":4.34,"x":22.92},{"k":23,"t":4.41,"x":23.1},{"k":23,"t":4.48,"x":22.9},{"k":23,"t":4.55,"x":23.08},{"k":23,"t":4.62,"x":22.92},{"k":23,"t":4.69,"x":23.08},{"k":23,"t":4.76,"x":22.92},{"k":23,"t":4.83,"x":23.08},{"k":23,"t":4.9,"x":22.92},
{"k":24,"t":0.98,"x":24},{"k":24,"t":1.05,"x":24.5},{"k":24,"t":1.12,"x":23.55},{"k":24,"t":1.19,"x":24.32},{"k":24,"t":1.26,"x":23.72},{"k":24,"t":1.33,"x":24.28},{"k":24,"t":1.4,"x":23.75},{"k":24,"t":1.47,"x":24.25},{"k":24,"t":1.54,"x":23.78},{"k":24,"t":1.61,"x":24.22},{"k":24,"t":1.68,"x":23.78},{"k":24,"t":1.75,"x":24.25},{"k":24,"t":1.82,"x":23.75},{"k":24,"t":1.89,"x":24.22},{"k":24,"t":1.96,"x":23.8},{"k":24,"t":2.03,"x":24.2},{"k":24,"t":2.1,"x":23.82},{"k":24,"t":2.17,"x":24.15},{"k":24,"t":2.24,"x":23.85},{"k":24,"t":2.31,"x":24.12},{"k":24,"t":2.38,"x":23.9},{"k":24,"t":2.45,"x":24.1},{"k":24,"t":2.52,"x":23.92},{"k":24,"t":2.59,"x":24.08},{"k":24,"t":2.66,"x":23.92},{"k":24,"t":2.73,"x":24.08},{"k":24,"t":2.8,"x":23.94},{"k":24,"t":2.87,"x":24.06},{"k":24,"t":2.94,"x":23.94},{"k":24,"t":3.01,"x":24.06},{"k":24,"t":3.08,"x":23.94},{"k":24,"t":3.15,"x":24.06},{"k":24,"t":3.22,"x":23.94},{"k":24,"t":3.29,"x":24.06},{"k":24,"t":3.36,"x":23.94},{"k":24,"t":3.43,"x":24.06},{"k":24,"t":3.5,"x":23.95},{"k":24,"t":3.57,"x":24.05},{"k":24,"t":3.64,"x":23.95},{"k":24,"t":3.71,"x":24.06},{"k":24,"t":3.78,"x":23.94},{"k":24,"t":3.85,"x":24.05},{"k":24,"t":3.92,"x":23.95},{"k":24,"t":3.99,"x":24.06},{"k":24,"t":4.06,"x":23.94},{"k":24,"t":4.13,"x":24.05},{"k":24,"t":4.2,"x":23.95},{"k":24,"t":4.27,"x":24.05},{"k":24,"t":4.34,"x":23.95},{"k":24,"t":4.41,"x":24.06},{"k":24,"t":4.48,"x":23.94},{"k":24,"t":4.55,"x":24.05},{"k":24,"t":4.62,"x":23.95},{"k":24,"t":4.69,"x":24.05},{"k":24,"t":4.76,"x":23.95},{"k":24,"t":4.83,"x":24.05},{"k":24,"t":4.9,"x":23.95},
{"k":25,"t":0.91,"x":25},{"k":25,"t":0.98,"x":24.6},{"k":25,"t":1.05,"x":25.5},{"k":25,"t":1.12,"x":24.65},{"k":25,"t":1.19,"x":25.3},{"k":25,"t":1.26,"x":24.75},{"k":25,"t":1.33,"x":25.25},{"k":25,"t":1.4,"x":24.78},{"k":25,"t":1.47,"x":25.22},{"k":25,"t":1.54,"x":24.78},{"k":25,"t":1.61,"x":25.25},{"k":25,"t":1.68,"x":24.75},{"k":25,"t":1.75,"x":25.22},{"k":25,"t":1.82,"x":24.8},{"k":25,"t":1.89,"x":25.2},{"k":25,"t":1.96,"x":24.82},{"k":25,"t":2.03,"x":25.18},{"k":25,"t":2.1,"x":24.85},{"k":25,"t":2.17,"x":25.15},{"k":25,"t":2.24,"x":24.88},{"k":25,"t":2.31,"x":25.12},{"k":25,"t":2.38,"x":24.88},{"k":25,"t":2.45,"x":25.12},{"k":25,"t":2.52,"x":24.9},{"k":25,"t":2.59,"x":25.1},{"k":25,"t":2.66,"x":24.9},{"k":25,"t":2.73,"x":25.1},{"k":25,"t":2.8,"x":24.9},{"k":25,"t":2.87,"x":25.12},{"k":25,"t":2.94,"x":24.88},{"k":25,"t":3.01,"x":25.1},{"k":25,"t":3.08,"x":24.9},{"k":25,"t":3.15,"x":25.1},{"k":25,"t":3.22,"x":24.9},{"k":25,"t":3.29,"x":25.1},{"k":25,"t":3.36,"x":24.9},{"k":25,"t":3.43,"x":25.12},{"k":25,"t":3.5,"x":24.9},{"k":25,"t":3.57,"x":25.1},{"k":25,"t":3.64,"x":24.9},{"k":25,"t":3.71,"x":25.1},{"k":25,"t":3.78,"x":24.9},{"k":25,"t":3.85,"x":25.1},{"k":25,"t":3.92,"x":24.92},{"k":25,"t":3.99,"x":25.1},{"k":25,"t":4.06,"x":24.9},{"k":25,"t":4.13,"x":25.1},{"k":25,"t":4.2,"x":24.92},{"k":25,"t":4.27,"x":25.08},{"k":25,"t":4.34,"x":24.92},{"k":25,"t":4.41,"x":25.1},{"k":25,"t":4.48,"x":24.9},{"k":25,"t":4.55,"x":25.08},{"k":25,"t":4.62,"x":24.92},{"k":25,"t":4.69,"x":25.1},{"k":25,"t":4.76,"x":24.92},{"k":25,"t":4.83,"x":25.08},{"k":25,"t":4.9,"x":24.92},
{"k":26,"t":0.91,"x":26},{"k":26,"t":0.98,"x":26.45},{"k":26,"t":1.05,"x":25.5},{"k":26,"t":1.12,"x":26.35},{"k":26,"t":1.19,"x":25.7},{"k":26,"t":1.26,"x":26.28},{"k":26,"t":1.33,"x":25.72},{"k":26,"t":1.4,"x":26.25},{"k":26,"t":1.47,"x":25.78},{"k":26,"t":1.54,"x":26.22},{"k":26,"t":1.61,"x":25.78},{"k":26,"t":1.68,"x":26.22},{"k":26,"t":1.75,"x":25.8},{"k":26,"t":1.82,"x":26.2},{"k":26,"t":1.89,"x":25.82},{"k":26,"t":1.96,"x":26.18},{"k":26,"t":2.03,"x":25.85},{"k":26,"t":2.1,"x":26.15},{"k":26,"t":2.17,"x":25.85},{"k":26,"t":2.24,"x":26.12},{"k":26,"t":2.31,"x":25.88},{"k":26,"t":2.38,"x":26.12},{"k":26,"t":2.45,"x":25.9},{"k":26,"t":2.52,"x":26.1},{"k":26,"t":2.59,"x":25.9},{"k":26,"t":2.66,"x":26.1},{"k":26,"t":2.73,"x":25.9},{"k":26,"t":2.8,"x":26.1},{"k":26,"t":2.87,"x":25.9},{"k":26,"t":2.94,"x":26.12},{"k":26,"t":3.01,"x":25.88},{"k":26,"t":3.08,"x":26.1},{"k":26,"t":3.15,"x":25.9},{"k":26,"t":3.22,"x":26.1},{"k":26,"t":3.29,"x":25.9},{"k":26,"t":3.36,"x":26.1},{"k":26,"t":3.43,"x":25.9},{"k":26,"t":3.5,"x":26.12},{"k":26,"t":3.57,"x":25.9},{"k":26,"t":3.64,"x":26.1},{"k":26,"t":3.71,"x":25.9},{"k":26,"t":3.78,"x":26.1},{"k":26,"t":3.85,"x":25.92},{"k":26,"t":3.92,"x":26.1},{"k":26,"t":3.99,"x":25.9},{"k":26,"t":4.06,"x":26.1},{"k":26,"t":4.13,"x":25.92},{"k":26,"t":4.2,"x":26.08},{"k":26,"t":4.27,"x":25.92},{"k":26,"t":4.34,"x":26.1},{"k":26,"t":4.41,"x":25.9},{"k":26,"t":4.48,"x":26.08},{"k":26,"t":4.55,"x":25.92},{"k":26,"t":4.62,"x":26.08},{"k":26,"t":4.69,"x":25.92},{"k":26,"t":4.76,"x":26.1},{"k":26,"t":4.83,"x":25.92},{"k":26,"t":4.9,"x":26.08},
{"k":27,"t":0.84,"x":27},{"k":27,"t":0.91,"x":27.4},{"k":27,"t":0.98,"x":26.5},{"k":27,"t":1.05,"x":27.35},{"k":27,"t":1.12,"x":26.7},{"k":27,"t":1.19,"x":27.28},{"k":27,"t":1.26,"x":26.72},{"k":27,"t":1.33,"x":27.25},{"k":27,"t":1.4,"x":26.75},{"k":27,"t":1.47,"x":27.25},{"k":27,"t":1.54,"x":26.78},{"k":27,"t":1.61,"x":27.22},{"k":27,"t":1.68,"x":26.78},{"k":27,"t":1.75,"x":27.2},{"k":27,"t":1.82,"x":26.8},{"k":27,"t":1.89,"x":27.2},{"k":27,"t":1.96,"x":26.82},{"k":27,"t":2.03,"x":27.18},{"k":27,"t":2.1,"x":26.85},{"k":27,"t":2.17,"x":27.15},{"k":27,"t":2.24,"x":26.85},{"k":27,"t":2.31,"x":27.12},{"k":27,"t":2.38,"x":26.88},{"k":27,"t":2.45,"x":27.12},{"k":27,"t":2.52,"x":26.88},{"k":27,"t":2.59,"x":27.1},{"k":27,"t":2.66,"x":26.9},{"k":27,"t":2.73,"x":27.1},{"k":27,"t":2.8,"x":26.9},{"k":27,"t":2.87,"x":27.12},{"k":27,"t":2.94,"x":26.88},{"k":27,"t":3.01,"x":27.1},{"k":27,"t":3.08,"x":26.9},{"k":27,"t":3.15,"x":27.1},{"k":27,"t":3.22,"x":26.9},{"k":27,"t":3.29,"x":27.1},{"k":27,"t":3.36,"x":26.9},{"k":27,"t":3.43,"x":27.1},{"k":27,"t":3.5,"x":26.9},{"k":27,"t":3.57,"x":27.12},{"k":27,"t":3.64,"x":26.88},{"k":27,"t":3.71,"x":27.1},{"k":27,"t":3.78,"x":26.9},{"k":27,"t":3.85,"x":27.1},{"k":27,"t":3.92,"x":26.9},{"k":27,"t":3.99,"x":27.1},{"k":27,"t":4.06,"x":26.9},{"k":27,"t":4.13,"x":27.1},{"k":27,"t":4.2,"x":26.9},{"k":27,"t":4.27,"x":27.1},{"k":27,"t":4.34,"x":26.9},{"k":27,"t":4.41,"x":27.08},{"k":27,"t":4.48,"x":26.92},{"k":27,"t":4.55,"x":27.08},{"k":27,"t":4.62,"x":26.92},{"k":27,"t":4.69,"x":27.08},{"k":27,"t":4.76,"x":26.92},{"k":27,"t":4.83,"x":27.08},{"k":27,"t":4.9,"x":26.92},
{"k":28,"t":0.84,"x":28},{"k":28,"t":0.91,"x":28.45},{"k":28,"t":0.98,"x":27.55},{"k":28,"t":1.05,"x":28.35},{"k":28,"t":1.12,"x":27.68},{"k":28,"t":1.19,"x":28.3},{"k":28,"t":1.26,"x":27.72},{"k":28,"t":1.33,"x":28.28},{"k":28,"t":1.4,"x":27.72},{"k":28,"t":1.47,"x":28.25},{"k":28,"t":1.54,"x":27.75},{"k":28,"t":1.61,"x":28.25},{"k":28,"t":1.68,"x":27.78},{"k":28,"t":1.75,"x":28.22},{"k":28,"t":1.82,"x":27.78},{"k":28,"t":1.89,"x":28.2},{"k":28,"t":1.96,"x":27.8},{"k":28,"t":2.03,"x":28.2},{"k":28,"t":2.1,"x":27.82},{"k":28,"t":2.17,"x":28.18},{"k":28,"t":2.24,"x":27.82},{"k":28,"t":2.31,"x":28.15},{"k":28,"t":2.38,"x":27.85},{"k":28,"t":2.45,"x":28.15},{"k":28,"t":2.52,"x":27.85},{"k":28,"t":2.59,"x":28.15},{"k":28,"t":2.66,"x":27.85},{"k":28,"t":2.73,"x":28.12},{"k":28,"t":2.8,"x":27.88},{"k":28,"t":2.87,"x":28.15},{"k":28,"t":2.94,"x":27.85},{"k":28,"t":3.01,"x":28.12},{"k":28,"t":3.08,"x":27.88},{"k":28,"t":3.15,"x":28.12},{"k":28,"t":3.22,"x":27.88},{"k":28,"t":3.29,"x":28.15},{"k":28,"t":3.36,"x":27.85},{"k":28,"t":3.43,"x":28.12},{"k":28,"t":3.5,"x":27.88},{"k":28,"t":3.57,"x":28.12},{"k":28,"t":3.64,"x":27.88},{"k":28,"t":3.71,"x":28.12},{"k":28,"t":3.78,"x":27.88},{"k":28,"t":3.85,"x":28.12},{"k":28,"t":3.92,"x":27.88},{"k":28,"t":3.99,"x":28.1},{"k":28,"t":4.06,"x":27.9},{"k":28,"t":4.13,"x":28.12},{"k":28,"t":4.2,"x":27.88},{"k":28,"t":4.27,"x":28.1},{"k":28,"t":4.34,"x":27.9},{"k":28,"t":4.41,"x":28.12},{"k":28,"t":4.48,"x":27.88},{"k":28,"t":4.55,"x":28.1},{"k":28,"t":4.62,"x":27.9},{"k":28,"t":4.69,"x":28.1},{"k":28,"t":4.76,"x":27.9},{"k":28,"t":4.83,"x":28.1},{"k":28,"t":4.9,"x":27.9},
{"k":29,"t":0.84,"x":29},{"k":29,"t":0.91,"x":29.45},{"k":29,"t":0.98,"x":28.6},{"k":29,"t":1.05,"x":29.35},{"k":29,"t":1.12,"x":28.68},{"k":29,"t":1.19,"x":29.3},{"k":29,"t":1.26,"x":28.72},{"k":29,"t":1.33,"x":29.28},{"k":29,"t":1.4,"x":28.72},{"k":29,"t":1.47,"x":29.25},{"k":29,"t":1.54,"x":28.75},{"k":29,"t":1.61,"x":29.25},{"k":29,"t":1.68,"x":28.78},{"k":29,"t":1.75,"x":29.22},{"k":29,"t":1.82,"x":28.78},{"k":29,"t":1.89,"x":29.2},{"k":29,"t":1.96,"x":28.8},{"k":29,"t":2.03,"x":29.2},{"k":29,"t":2.1,"x":28.82},{"k":29,"t":2.17,"x":29.18},{"k":29,"t":2.24,"x":28.82},{"k":29,"t":2.31,"x":29.15},{"k":29,"t":2.38,"x":28.85},{"k":29,"t":2.45,"x":29.15},{"k":29,"t":2.52,"x":28.85},{"k":29,"t":2.59,"x":29.15},{"k":29,"t":2.66,"x":28.85},{"k":29,"t":2.73,"x":29.12},{"k":29,"t":2.8,"x":28.88},{"k":29,"t":2.87,"x":29.15},{"k":29,"t":2.94,"x":28.85},{"k":29,"t":3.01,"x":29.12},{"k":29,"t":3.08,"x":28.88},{"k":29,"t":3.15,"x":29.12},{"k":29,"t":3.22,"x":28.88},{"k":29,"t":3.29,"x":29.12},{"k":29,"t":3.36,"x":28.88},{"k":29,"t":3.43,"x":29.12},{"k":29,"t":3.5,"x":28.88},{"k":29,"t":3.57,"x":29.12},{"k":29,"t":3.64,"x":28.88},{"k":29,"t":3.71,"x":29.12},{"k":29,"t":3.78,"x":28.88},{"k":29,"t":3.85,"x":29.1},{"k":29,"t":3.92,"x":28.9},{"k":29,"t":3.99,"x":29.12},{"k":29,"t":4.06,"x":28.88},{"k":29,"t":4.13,"x":29.1},{"k":29,"t":4.2,"x":28.9},{"k":29,"t":4.27,"x":29.12},{"k":29,"t":4.34,"x":28.88},{"k":29,"t":4.41,"x":29.1},{"k":29,"t":4.48,"x":28.9},{"k":29,"t":4.55,"x":29.1},{"k":29,"t":4.62,"x":28.9},{"k":29,"t":4.69,"x":29.1},{"k":29,"t":4.76,"x":28.9},{"k":29,"t":4.83,"x":29.1},{"k":29,"t":4.9,"x":28.9},
{"k":30,"t":0.84,"x":30},{"k":30,"t":0.91,"x":30.5},{"k":30,"t":0.98,"x":29.55},{"k":30,"t":1.05,"x":30.35},{"k":30,"t":1.12,"x":29.7},{"k":30,"t":1.19,"x":30.28},{"k":30,"t":1.26,"x":29.72},{"k":30,"t":1.33,"x":30.3},{"k":30,"t":1.4,"x":29.75},{"k":30,"t":1.47,"x":30.25},{"k":30,"t":1.54,"x":29.75},{"k":30,"t":1.61,"x":30.22},{"k":30,"t":1.68,"x":29.78},{"k":30,"t":1.75,"x":30.25},{"k":30,"t":1.82,"x":29.8},{"k":30,"t":1.89,"x":30.2},{"k":30,"t":1.96,"x":29.8},{"k":30,"t":2.03,"x":30.18},{"k":30,"t":2.1,"x":29.82},{"k":30,"t":2.17,"x":30.2},{"k":30,"t":2.24,"x":29.85},{"k":30,"t":2.31,"x":30.15},{"k":30,"t":2.38,"x":29.85},{"k":30,"t":2.45,"x":30.15},{"k":30,"t":2.52,"x":29.82},{"k":30,"t":2.59,"x":30.15},{"k":30,"t":2.66,"x":29.88},{"k":30,"t":2.73,"x":30.12},{"k":30,"t":2.8,"x":29.88},{"k":30,"t":2.87,"x":30.12},{"k":30,"t":2.94,"x":29.85},{"k":30,"t":3.01,"x":30.15},{"k":30,"t":3.08,"x":29.88},{"k":30,"t":3.15,"x":30.12},{"k":30,"t":3.22,"x":29.88},{"k":30,"t":3.29,"x":30.12},{"k":30,"t":3.36,"x":29.88},{"k":30,"t":3.43,"x":30.12},{"k":30,"t":3.5,"x":29.88},{"k":30,"t":3.57,"x":30.1},{"k":30,"t":3.64,"x":29.9},{"k":30,"t":3.71,"x":30.12},{"k":30,"t":3.78,"x":29.88},{"k":30,"t":3.85,"x":30.1},{"k":30,"t":3.92,"x":29.9},{"k":30,"t":3.99,"x":30.12},{"k":30,"t":4.06,"x":29.88},{"k":30,"t":4.13,"x":30.1},{"k":30,"t":4.2,"x":29.9},{"k":30,"t":4.27,"x":30.1},{"k":30,"t":4.34,"x":29.9},{"k":30,"t":4.41,"x":30.1},{"k":30,"t":4.48,"x":29.9},{"k":30,"t":4.55,"x":30.1},{"k":30,"t":4.62,"x":29.9},{"k":30,"t":4.69,"x":30.1},{"k":30,"t":4.76,"x":29.9},{"k":30,"t":4.83,"x":30.1},{"k":30,"t":4.9,"x":29.9},
{"k":31,"t":0.84,"x":31},{"k":31,"t":0.91,"x":31.45},{"k":31,"t":0.98,"x":30.5},{"k":31,"t":1.05,"x":31.4},{"k":31,"t":1.12,"x":30.68},{"k":31,"t":1.19,"x":31.3},{"k":31,"t":1.26,"x":30.72},{"k":31,"t":1.33,"x":31.28},{"k":31,"t":1.4,"x":30.75},{"k":31,"t":1.47,"x":31.25},{"k":31,"t":1.54,"x":30.75},{"k":31,"t":1.61,"x":31.22},{"k":31,"t":1.68,"x":30.78},{"k":31,"t":1.75,"x":31.22},{"k":31,"t":1.82,"x":30.8},{"k":31,"t":1.89,"x":31.2},{"k":31,"t":1.96,"x":30.82},{"k":31,"t":2.03,"x":31.18},{"k":31,"t":2.1,"x":30.82},{"k":31,"t":2.17,"x":31.15},{"k":31,"t":2.24,"x":30.85},{"k":31,"t":2.31,"x":31.15},{"k":31,"t":2.38,"x":30.85},{"k":31,"t":2.45,"x":31.15},{"k":31,"t":2.52,"x":30.8},{"k":31,"t":2.59,"x":31.3},{"k":31,"t":2.66,"x":30.75},{"k":31,"t":2.73,"x":31.12},{"k":31,"t":2.8,"x":30.88},{"k":31,"t":2.87,"x":31.12},{"k":31,"t":2.94,"x":30.88},{"k":31,"t":3.01,"x":31.1},{"k":31,"t":3.08,"x":30.9},{"k":31,"t":3.15,"x":31.12},{"k":31,"t":3.22,"x":30.88},{"k":31,"t":3.29,"x":31.1},{"k":31,"t":3.36,"x":30.9},{"k":31,"t":3.43,"x":31.1},{"k":31,"t":3.5,"x":30.9},{"k":31,"t":3.57,"x":31.1},{"k":31,"t":3.64,"x":30.9},{"k":31,"t":3.71,"x":31.1},{"k":31,"t":3.78,"x":30.9},{"k":31,"t":3.85,"x":31.1},{"k":31,"t":3.92,"x":30.9},{"k":31,"t":3.99,"x":31.08},{"k":31,"t":4.06,"x":30.92},{"k":31,"t":4.13,"x":31.1},{"k":31,"t":4.2,"x":30.9},{"k":31,"t":4.27,"x":31.08},{"k":31,"t":4.34,"x":30.92},{"k":31,"t":4.41,"x":31.1},{"k":31,"t":4.48,"x":30.9},{"k":31,"t":4.55,"x":31.08},{"k":31,"t":4.62,"x":30.92},{"k":31,"t":4.69,"x":31.08},{"k":31,"t":4.76,"x":30.92},{"k":31,"t":4.83,"x":31.08},{"k":31,"t":4.9,"x":30.92},
{"k":32,"t":0.84,"x":32},{"k":32,"t":0.91,"x":32.3},{"k":32,"t":0.98,"x":31.55},{"k":32,"t":1.05,"x":32.45},{"k":32,"t":1.12,"x":31.65},{"k":32,"t":1.19,"x":32.3},{"k":32,"t":1.26,"x":31.72},{"k":32,"t":1.33,"x":32.28},{"k":32,"t":1.4,"x":31.75},{"k":32,"t":1.47,"x":32.25},{"k":32,"t":1.54,"x":31.75},{"k":32,"t":1.61,"x":32.22},{"k":32,"t":1.68,"x":31.78},{"k":32,"t":1.75,"x":32.22},{"k":32,"t":1.82,"x":31.8},{"k":32,"t":1.89,"x":32.2},{"k":32,"t":1.96,"x":31.82},{"k":32,"t":2.03,"x":32.18},{"k":32,"t":2.1,"x":31.82},{"k":32,"t":2.17,"x":32.18},{"k":32,"t":2.24,"x":31.85},{"k":32,"t":2.31,"x":32.15},{"k":32,"t":2.38,"x":31.85},{"k":32,"t":2.45,"x":32.15},{"k":32,"t":2.52,"x":31.85},{"k":32,"t":2.59,"x":32.12},{"k":32,"t":2.66,"x":31.88},{"k":32,"t":2.73,"x":32.12},{"k":32,"t":2.8,"x":31.88},{"k":32,"t":2.87,"x":32.15},{"k":32,"t":2.94,"x":31.85},{"k":32,"t":3.01,"x":32.12},{"k":32,"t":3.08,"x":31.88},{"k":32,"t":3.15,"x":32.12},{"k":32,"t":3.22,"x":31.88},{"k":32,"t":3.29,"x":32.12},{"k":32,"t":3.36,"x":31.88},{"k":32,"t":3.43,"x":32.12},{"k":32,"t":3.5,"x":31.88},{"k":32,"t":3.57,"x":32.12},{"k":32,"t":3.64,"x":31.88},{"k":32,"t":3.71,"x":32.1},{"k":32,"t":3.78,"x":31.9},{"k":32,"t":3.85,"x":32.12},{"k":32,"t":3.92,"x":31.88},{"k":32,"t":3.99,"x":32.1},{"k":32,"t":4.06,"x":31.9},{"k":32,"t":4.13,"x":32.12},{"k":32,"t":4.2,"x":31.88},{"k":32,"t":4.27,"x":32.1},{"k":32,"t":4.34,"x":31.9},{"k":32,"t":4.41,"x":32.1},{"k":32,"t":4.48,"x":31.9},{"k":32,"t":4.55,"x":32.1},{"k":32,"t":4.62,"x":31.9},{"k":32,"t":4.69,"x":32.1},{"k":32,"t":4.76,"x":31.9},{"k":32,"t":4.83,"x":32.1},{"k":32,"t":4.9,"x":31.9},
{"k":33,"t":0.91,"x":33},{"k":33,"t":0.98,"x":33.45},{"k":33,"t":1.05,"x":32.55},{"k":33,"t":1.12,"x":33.35},{"k":33,"t":1.19,"x":32.7},{"k":33,"t":1.26,"x":33.3},{"k":33,"t":1.33,"x":32.72},{"k":33,"t":1.4,"x":33.28},{"k":33,"t":1.47,"x":32.75},{"k":33,"t":1.54,"x":33.25},{"k":33,"t":1.61,"x":32.75},{"k":33,"t":1.68,"x":33.22},{"k":33,"t":1.75,"x":32.78},{"k":33,"t":1.82,"x":33.22},{"k":33,"t":1.89,"x":32.8},{"k":33,"t":1.96,"x":33.2},{"k":33,"t":2.03,"x":32.8},{"k":33,"t":2.1,"x":33.18},{"k":33,"t":2.17,"x":32.82},{"k":33,"t":2.24,"x":33.18},{"k":33,"t":2.31,"x":32.85},{"k":33,"t":2.38,"x":33.15},{"k":33,"t":2.45,"x":32.85},{"k":33,"t":2.52,"x":33.15},{"k":33,"t":2.59,"x":32.85},{"k":33,"t":2.66,"x":33.12},{"k":33,"t":2.73,"x":32.88},{"k":33,"t":2.8,"x":33.15},{"k":33,"t":2.87,"x":32.85},{"k":33,"t":2.94,"x":33.12},{"k":33,"t":3.01,"x":32.88},{"k":33,"t":3.08,"x":33.12},{"k":33,"t":3.15,"x":32.88},{"k":33,"t":3.22,"x":33.12},{"k":33,"t":3.29,"x":32.88},{"k":33,"t":3.36,"x":33.12},{"k":33,"t":3.43,"x":32.88},{"k":33,"t":3.5,"x":33.12},{"k":33,"t":3.57,"x":32.88},{"k":33,"t":3.64,"x":33.1},{"k":33,"t":3.71,"x":32.9},{"k":33,"t":3.78,"x":33.12},{"k":33,"t":3.85,"x":32.88},{"k":33,"t":3.92,"x":33.1},{"k":33,"t":3.99,"x":32.9},{"k":33,"t":4.06,"x":33.12},{"k":33,"t":4.13,"x":32.88},{"k":33,"t":4.2,"x":33.1},{"k":33,"t":4.27,"x":32.9},{"k":33,"t":4.34,"x":33.1},{"k":33,"t":4.41,"x":32.9},{"k":33,"t":4.48,"x":33.1},{"k":33,"t":4.55,"x":32.9},{"k":33,"t":4.62,"x":33.1},{"k":33,"t":4.69,"x":32.9},{"k":33,"t":4.76,"x":33.1},{"k":33,"t":4.83,"x":32.9},{"k":33,"t":4.9,"x":33.1},
{"k":34,"t":0.91,"x":34},{"k":34,"t":0.98,"x":33.5},{"k":34,"t":1.05,"x":34.45},{"k":34,"t":1.12,"x":33.65},{"k":34,"t":1.19,"x":34.3},{"k":34,"t":1.26,"x":33.72},{"k":34,"t":1.33,"x":34.28},{"k":34,"t":1.4,"x":33.72},{"k":34,"t":1.47,"x":34.25},{"k":34,"t":1.54,"x":33.75},{"k":34,"t":1.61,"x":34.25},{"k":34,"t":1.68,"x":33.78},{"k":34,"t":1.75,"x":34.22},{"k":34,"t":1.82,"x":33.78},{"k":34,"t":1.89,"x":34.2},{"k":34,"t":1.96,"x":33.8},{"k":34,"t":2.03,"x":34.2},{"k":34,"t":2.1,"x":33.82},{"k":34,"t":2.17,"x":34.18},{"k":34,"t":2.24,"x":33.82},{"k":34,"t":2.31,"x":34.15},{"k":34,"t":2.38,"x":33.85},{"k":34,"t":2.45,"x":34.15},{"k":34,"t":2.52,"x":33.85},{"k":34,"t":2.59,"x":34.15},{"k":34,"t":2.66,"x":33.85},{"k":34,"t":2.73,"x":34.12},{"k":34,"t":2.8,"x":33.88},{"k":34,"t":2.87,"x":34.12},{"k":34,"t":2.94,"x":33.88},{"k":34,"t":3.01,"x":34.12},{"k":34,"t":3.08,"x":33.88},{"k":34,"t":3.15,"x":34.12},{"k":34,"t":3.22,"x":33.88},{"k":34,"t":3.29,"x":34.15},{"k":34,"t":3.36,"x":33.85},{"k":34,"t":3.43,"x":34.12},{"k":34,"t":3.5,"x":33.88},{"k":34,"t":3.57,"x":34.12},{"k":34,"t":3.64,"x":33.88},{"k":34,"t":3.71,"x":34.1},{"k":34,"t":3.78,"x":33.9},{"k":34,"t":3.85,"x":34.12},{"k":34,"t":3.92,"x":33.88},{"k":34,"t":3.99,"x":34.1},{"k":34,"t":4.06,"x":33.9},{"k":34,"t":4.13,"x":34.12},{"k":34,"t":4.2,"x":33.88},{"k":34,"t":4.27,"x":34.1},{"k":34,"t":4.34,"x":33.9},{"k":34,"t":4.41,"x":34.1},{"k":34,"t":4.48,"x":33.9},{"k":34,"t":4.55,"x":34.1},{"k":34,"t":4.62,"x":33.9},{"k":34,"t":4.69,"x":34.1},{"k":34,"t":4.76,"x":33.9},{"k":34,"t":4.83,"x":34.1},{"k":34,"t":4.9,"x":33.9},
{"k":35,"t":0.98,"x":35},{"k":35,"t":1.05,"x":35.5},{"k":35,"t":1.12,"x":34.6},{"k":35,"t":1.19,"x":35.35},{"k":35,"t":1.26,"x":34.7},{"k":35,"t":1.33,"x":35.28},{"k":35,"t":1.4,"x":34.72},{"k":35,"t":1.47,"x":35.25},{"k":35,"t":1.54,"x":34.75},{"k":35,"t":1.61,"x":35.25},{"k":35,"t":1.68,"x":34.75},{"k":35,"t":1.75,"x":35.22},{"k":35,"t":1.82,"x":34.78},{"k":35,"t":1.89,"x":35.22},{"k":35,"t":1.96,"x":34.8},{"k":35,"t":2.03,"x":35.2},{"k":35,"t":2.1,"x":34.8},{"k":35,"t":2.17,"x":35.18},{"k":35,"t":2.24,"x":34.82},{"k":35,"t":2.31,"x":35.18},{"k":35,"t":2.38,"x":34.85},{"k":35,"t":2.45,"x":35.15},{"k":35,"t":2.52,"x":34.85},{"k":35,"t":2.59,"x":35.15},{"k":35,"t":2.66,"x":34.85},{"k":35,"t":2.73,"x":35.12},{"k":35,"t":2.8,"x":34.88},{"k":35,"t":2.87,"x":35.15},{"k":35,"t":2.94,"x":34.85},{"k":35,"t":3.01,"x":35.12},{"k":35,"t":3.08,"x":34.88},{"k":35,"t":3.15,"x":35.12},{"k":35,"t":3.22,"x":34.88},{"k":35,"t":3.29,"x":35.12},{"k":35,"t":3.36,"x":34.88},{"k":35,"t":3.43,"x":35.12},{"k":35,"t":3.5,"x":34.88},{"k":35,"t":3.57,"x":35.12},{"k":35,"t":3.64,"x":34.88},{"k":35,"t":3.71,"x":35.1},{"k":35,"t":3.78,"x":34.9},{"k":35,"t":3.85,"x":35.12},{"k":35,"t":3.92,"x":34.88},{"k":35,"t":3.99,"x":35.1},{"k":35,"t":4.06,"x":34.9},{"k":35,"t":4.13,"x":35.12},{"k":35,"t":4.2,"x":34.88},{"k":35,"t":4.27,"x":35.1},{"k":35,"t":4.34,"x":34.9},{"k":35,"t":4.41,"x":35.1},{"k":35,"t":4.48,"x":34.9},{"k":35,"t":4.55,"x":35.1},{"k":35,"t":4.62,"x":34.9},{"k":35,"t":4.69,"x":35.1},{"k":35,"t":4.76,"x":34.9},{"k":35,"t":4.83,"x":35.1},{"k":35,"t":4.9,"x":34.9}
]},
"layer":[
{"data":{"name":"r"},"mark":{"type":"rule","color":"black","strokeWidth":1.8},
"encoding":{
"x":{"field":"k","type":"quantitative","scale":{"domain":[-1,36],"nice":false,"zero":false},"axis":{"values":[0,5,10,15,20,25,30,35],"title":null}},
"y":{"field":"o","type":"quantitative","scale":{"domain":[0,4.9],"nice":false,"zero":false,"reverse":true},"axis":{"values":[0,1,2,3,4],"title":null}},
"y2":{"datum":0}}},
{"data":{"name":"w"},"mark":{"type":"line","color":"black","strokeWidth":1.8,"interpolate":"cardinal","clip":true},
"encoding":{
"x":{"field":"x","type":"quantitative","scale":{"domain":[-1,36],"nice":false,"zero":false},"axis":{"values":[0,5,10,15,20,25,30,35],"title":null}},
"y":{"field":"t","type":"quantitative","scale":{"domain":[0,4.9],"nice":false,"zero":false,"reverse":true},"axis":{"values":[0,1,2,3,4],"title":null}},
"detail":{"field":"k","type":"nominal"},
"order":{"field":"t","type":"quantitative"}}}
]
}
